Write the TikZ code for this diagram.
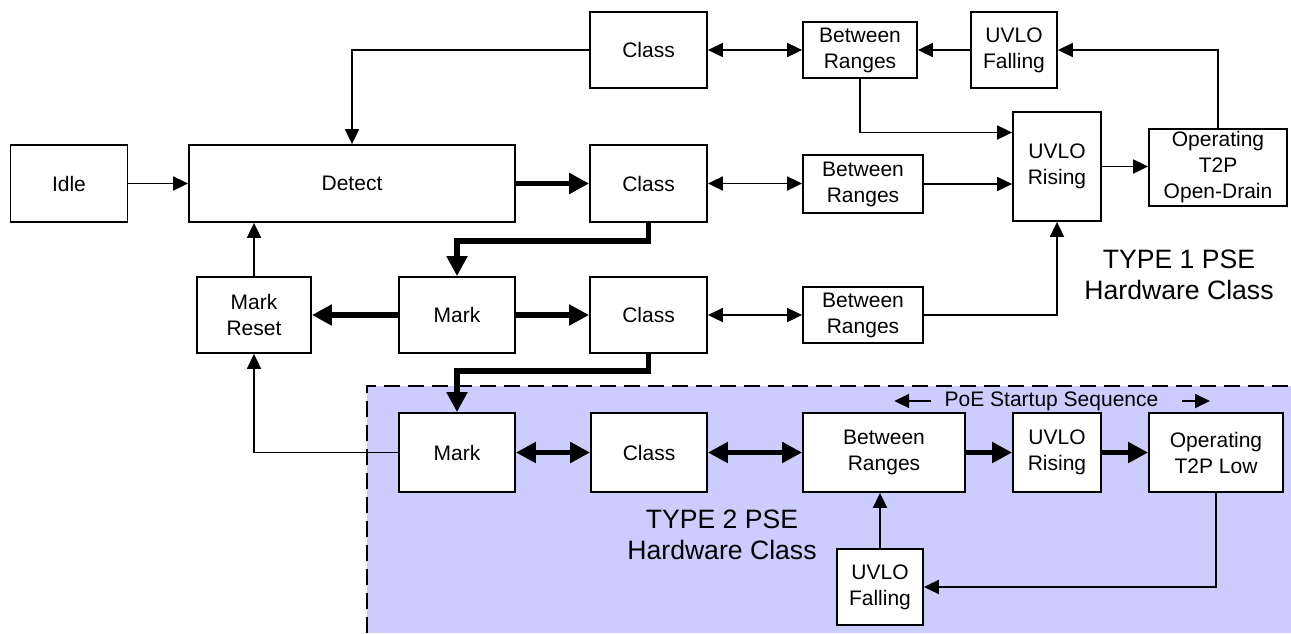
\documentclass[tikz,border=0pt]{standalone}
\usepackage{fontspec}
\setmainfont{Liberation Sans}
\usetikzlibrary{arrows.meta}
\definecolor{typetwo}{RGB}{204,204,255}
\tikzset{
  box/.style={draw, line width=0.9pt, align=center, inner sep=1pt, font={\fontsize{10.5}{13}\selectfont}},
  sig/.style={line width=0.9pt},
  bus/.style={line width=2.6pt, >={Triangle[length=10pt,width=10pt]}},
  big/.style={align=center, font={\fontsize{13.3}{15.5}\selectfont}}
}
\begin{document}
\begin{tikzpicture}[x=0.5pt, y=-0.5pt, >={Triangle[length=7.5pt,width=7pt]}]
\useasboundingbox (0,0) rectangle (1291,633);
% type 2 area
\fill[typetwo] (367,386) rectangle (1291,633);
\draw[line width=1pt, dash pattern=on 8pt off 4pt] (367,633) -- (367,386) -- (1291,386);
% top row
\node[box, minimum width=58.5pt, minimum height=38pt] (cls0) at (648.5,50) {Class};
\node[box, minimum width=57pt, minimum height=28pt] (br0) at (860,50) {Between\\Ranges};
\node[box, minimum width=43pt, minimum height=38pt] (uf0) at (1014,50) {UVLO\\Falling};
% detect row
\node[box, minimum width=58.5pt, minimum height=38.5pt] (idle) at (69,183.5) {Idle};
\node[box, minimum width=163pt, minimum height=38.5pt] (det) at (352,183.5) {Detect};
\node[box, minimum width=58.5pt, minimum height=38.5pt] (cls1) at (648.5,183.5) {Class};
\node[box, minimum width=60pt, minimum height=29pt] (br1) at (863,184) {Between\\Ranges};
\node[box, minimum width=44pt, minimum height=54.5pt] (ur1) at (1057,166.5) {UVLO\\Rising};
\node[box, minimum width=69pt, minimum height=38.5pt] (op1) at (1218,167.5) {Operating\\T2P\\Open-Drain};
% mark row
\node[box, minimum width=57pt, minimum height=38pt] (mreset) at (254,315) {Mark\\Reset};
\node[box, minimum width=58pt, minimum height=38pt] (mark1) at (457,315) {Mark};
\node[box, minimum width=58.5pt, minimum height=38pt] (cls2) at (648.5,315) {Class};
\node[box, minimum width=60pt, minimum height=28pt] (br2) at (863,315) {Between\\Ranges};
% type 2 row
\node[box, fill=white, minimum width=58pt, minimum height=39.5pt] (mark2) at (457,452.5) {Mark};
\node[box, fill=white, minimum width=58pt, minimum height=39.5pt] (cls3) at (649,452.5) {Class};
\node[box, fill=white, minimum width=81pt, minimum height=39.5pt] (br3) at (884,452.5) {Between\\Ranges};
\node[box, fill=white, minimum width=44pt, minimum height=39.5pt] (ur3) at (1057,452.5) {UVLO\\Rising};
\node[box, fill=white, minimum width=67pt, minimum height=39.5pt] (op3) at (1216,452.5) {Operating\\T2P Low};
\node[box, fill=white, minimum width=43pt, minimum height=38pt] (uf3) at (880,587) {UVLO\\Falling};
% labels
\node[big] (t1) at (1179,274.5) {TYPE 1 PSE\\Hardware Class};
\node[big] (t2) at (722,535) {TYPE 2 PSE\\Hardware Class};
\node[font={\fontsize{10.5}{12}\selectfont}] (poe) at (1051.5,401) {PoE Startup Sequence};
\draw[sig,->] ([xshift=-3.2pt]poe.west) -- ++(-37,0);
\draw[sig,->] ([xshift=8.3pt]poe.east) -- ++(28,0);
% thin links
\draw[sig,->] (cls0.west) -| (det.north);
\draw[sig,->] (op1.north) |- (uf0.east);
\draw[sig,->] (br0.south) |- ([yshift=17pt]ur1.west);
\draw[sig,->] (br1.east) -- (br1.east -| ur1.west);
\draw[sig,->] (ur1.east) -- (ur1.east -| op1.west);
\draw[sig,->] (br2.east) -| (ur1.south);
\draw[sig,->] (mreset.north) -- (mreset.north |- det.south);
\draw[sig,->] (mark2.west) -| (mreset.south);
\draw[sig,->] (op3.south) |- (uf3.east);
\draw[sig,->] (uf3.north) -- (uf3.north |- br3.south);
\foreach \a/\b in {uf0/br0, idle/det}
  \draw[sig,->] (\a) -- (\b);
\foreach \a/\b in {cls0/br0, cls1/br1, cls2/br2}
  \draw[sig,<->] (\a.east) -- (\a.east -| \b.west);
% bold links
\draw[bus,->] (cls1.south) -- ++(0,18) -| (mark1.north);
\draw[bus,->] (cls2.south) -- ++(0,17) -| (mark2.north);
\foreach \a/\b in {det/cls1, mark1/mreset, mark1/cls2, br3/ur3, ur3/op3}
  \draw[bus,->] (\a) -- (\b);
\foreach \a/\b in {mark2/cls3, cls3/br3}
  \draw[bus,<->] (\a) -- (\b);
\end{tikzpicture}
\end{document}
